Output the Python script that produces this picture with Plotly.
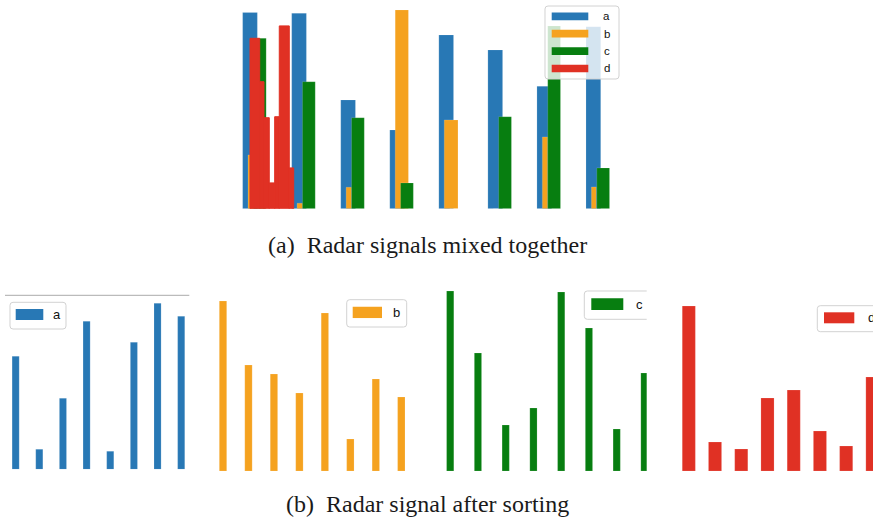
import plotly.graph_objects as go

W, H = 873, 521

# ---------------- data: (a) mixed radar pulses ----------------
# pulse start (time units), pulse width (time units), amplitude
a_start = [-0.15, 0.85, 1.85, 2.85, 3.85, 4.85, 5.85, 6.85]
a_width = [0.30, 0.30, 0.30, 0.30, 0.30, 0.30, 0.30, 0.30]
a_amp = [0.981, 0.977, 0.544, 0.394, 0.869, 0.794, 0.612, 0.910]

b_start = [-0.04, 0.96, 1.96, 2.96, 3.96, 4.96, 5.96, 6.96]
b_width = [0.11, 0.11, 0.11, 0.27, 0.28, 0.11, 0.11, 0.10]
b_amp = [0.269, 0.027, 0.107, 0.994, 0.444, 0.0, 0.359, 0.109]

c_start = [0.07, 1.07, 2.07, 3.07, 4.07, 5.07, 6.07, 7.07]
c_width = [0.26, 0.26, 0.26, 0.26, 0.26, 0.26, 0.26, 0.26]
c_amp = [0.852, 0.635, 0.455, 0.129, 0.0, 0.460, 0.914, 0.204]

d_start = [0.0, 0.198, 0.285, 0.393, 0.503, 0.597, 0.801]
d_width = [0.198, 0.087, 0.108, 0.110, 0.094, 0.204, 0.090]
d_amp = [0.852, 0.635, 0.455, 0.129, 0.460, 0.914, 0.204]

# ---------------- data: (b) sorted signals ----------------
pulse_idx = [0, 1, 2, 3, 4, 5, 6, 7]
sorted_a = [1.13, 0.20, 0.71, 1.48, 0.18, 1.27, 1.66, 1.53]
sorted_b = [1.70, 1.06, 0.97, 0.78, 1.58, 0.32, 0.92, 0.74]
sorted_c = [1.80, 1.18, 0.46, 0.63, 1.79, 1.43, 0.42, 0.98]
sorted_d = [1.65, 0.29, 0.22, 0.73, 0.81, 0.40, 0.25, 0.94]

labels = ["a", "b", "c", "d"]
colors = ["#2878b5", "#f5a21f", "#077e10", "#e03124"]
captions = ["(a)\u00a0 Radar signals mixed together", "(b)\u00a0 Radar signal after sorting"]


def px(x):
    return x / W


def py(y):
    return 1 - y / H


edge = dict(width=0.5, color="rgba(255,255,255,0.3)")

fig = go.Figure()

# ---- top panel ----
for st, wd, amp, col, lab in zip(
    [a_start, b_start, c_start, d_start],
    [a_width, b_width, c_width, d_width],
    [a_amp, b_amp, c_amp, d_amp],
    colors, labels,
):
    line = dict(width=1, color=col) if lab == "d" else edge
    fig.add_trace(go.Bar(x=st, y=amp, width=wd, offset=0, name=lab,
                         marker=dict(color=col, line=line),
                         xaxis="x", yaxis="y", showlegend=False))

# ---- bottom panels ----
panel_vals = [sorted_a, sorted_b, sorted_c, sorted_d]
panel_bw = [0.30, 0.29, 0.26, 0.50]
for k, (vals, col, lab, bw) in enumerate(zip(panel_vals, colors, labels, panel_bw)):
    ax = str(k + 2)
    fig.add_trace(go.Bar(x=pulse_idx, y=vals, width=bw, name=lab,
                         marker=dict(color=col, line=edge),
                         xaxis="x" + ax, yaxis="y" + ax, showlegend=False))

hidden = dict(visible=False, fixedrange=True)


def xdom(d0, d1, c0, s):
    return dict(domain=[px(d0), px(d1)], range=[(d0 - c0) / s, (d1 - c0) / s], **hidden)


def ydom(base, top, r):
    return dict(domain=[py(base), py(top)], range=[0, r], **hidden)


layout = dict(
    width=W, height=H, autosize=False,
    margin=dict(l=0, r=0, t=0, b=0),
    paper_bgcolor="white", plot_bgcolor="rgba(0,0,0,0)",
    barmode="overlay", showlegend=False,
    xaxis=xdom(235, 625, 250, 49.05),
    yaxis=ydom(208.7, 8.7, 1.0),
    xaxis2=xdom(2, 200, 15.65, 23.65),
    yaxis2=ydom(469.3, 269.3, 2.0),
    xaxis3=xdom(205, 430, 223, 25.47),
    yaxis3=ydom(471, 271, 2.0),
    xaxis4=xdom(435, 646.7, 450.2, 27.75),
    yaxis4=ydom(471, 271, 2.0),
    xaxis5=xdom(660, 873, 688.8, 26.23),
    yaxis5=ydom(471, 271, 2.0),
)
fig.update_layout(**layout)

shapes = []
annotations = []


def rounded_box(x0, y0, x1, y1, r=3, open_right=False):
    def P(x, y):
        return f"{px(x):.5f},{py(y):.5f}"
    if open_right:
        d = (f"M{P(x1, y0)} L{P(x0 + r, y0)} Q{P(x0, y0)} {P(x0, y0 + r)} "
             f"L{P(x0, y1 - r)} Q{P(x0, y1)} {P(x0 + r, y1)} L{P(x1, y1)}")
    else:
        d = (f"M{P(x0 + r, y0)} L{P(x1 - r, y0)} Q{P(x1, y0)} {P(x1, y0 + r)} "
             f"L{P(x1, y1 - r)} Q{P(x1, y1)} {P(x1 - r, y1)} L{P(x0 + r, y1)} "
             f"Q{P(x0, y1)} {P(x0, y1 - r)} L{P(x0, y0 + r)} Q{P(x0, y0)} {P(x0 + r, y0)} Z")
    return dict(type="path", path=d, xref="paper", yref="paper", layer="above",
                fillcolor="rgba(255,255,255,0.8)", line=dict(color="#d2d2d2", width=1))


def legend(box, items, sw_x, sw_h, y0, dy, lab_x, fsize, open_right=False):
    shapes.append(rounded_box(*box, open_right=open_right))
    for i, (col, lab) in enumerate(items):
        yc = y0 + i * dy
        shapes.append(dict(type="rect", xref="paper", yref="paper", layer="above",
                           x0=px(sw_x[0]), x1=px(sw_x[1]),
                           y0=py(yc + sw_h / 2), y1=py(yc - sw_h / 2),
                           fillcolor=col, line=dict(width=0)))
        annotations.append(dict(text=lab, xref="paper", yref="paper", x=px(lab_x), y=py(yc),
                                xanchor="center", yanchor="middle", showarrow=False,
                                font=dict(family="Liberation Sans, Arial", size=fsize, color="#111")))


# top legend
legend((545, 6, 619, 79), list(zip(colors, labels)), (551.7, 588.3), 7.7, 16.3, 17.4, 606.8, 11.5)
# bottom legends
legend((10, 302.3, 66, 329), [(colors[0], labels[0])], (15.7, 43.3), 11, 314.5, 0, 57.2, 13)
legend((346.7, 299.7, 406.7, 327), [(colors[1], labels[1])], (352.7, 382), 11.3, 312.4, 0, 396.7, 13)
legend((584.3, 291, 646.7, 319.3), [(colors[2], labels[2])], (591.3, 623.3), 11.7, 304.2, 0, 639.7, 13,
       open_right=True)
legend((817.3, 305.7, 890, 331.7), [(colors[3], labels[3])], (824, 854.3), 11, 317.8, 0, 871.5, 13)

# thin top line of first sorted panel
shapes.append(dict(type="line", xref="paper", yref="paper", x0=px(5), x1=px(189.3),
                   y0=py(295.3), y1=py(295.3), line=dict(color="#aaaaaa", width=1)))

for cap, yc in zip(captions, [245.0, 504.0]):
    annotations.append(dict(text=cap, xref="paper", yref="paper", x=px(427), y=py(yc),
                            xanchor="center", yanchor="middle", showarrow=False,
                            font=dict(family="Liberation Serif, Times New Roman", size=24,
                                      color="#1a1a1a")))

fig.update_layout(shapes=shapes, annotations=annotations)
fig.write_html("out.html",
               config={"displayModeBar": False, "staticPlot": True},
               post_script="document.body.style.margin='0px';document.body.style.padding='0px';")
